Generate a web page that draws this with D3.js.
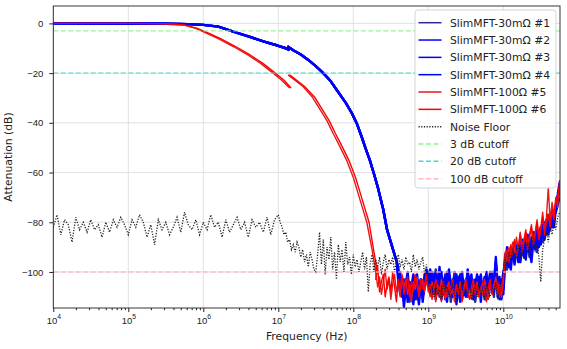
<!DOCTYPE html>
<html lang="en">
<head>
<meta charset="UTF-8">
<title>SlimMFT attenuation</title>
<script src="https://d3js.org/d3.v7.min.js"></script>
<style>
  body { margin: 0; background: white; }
  svg { display: block; font-family: "DejaVu Sans", sans-serif; }
  .tick line { stroke: #222; }
  .domain { display: none; }
</style>
</head>
<body>
<svg width="567" height="349"></svg>
<script>
// frequencies are stored as log10(Hz)
const xTickExps = [4, 5, 6, 7, 8, 9, 10];
const yTickVals = [0, -20, -40, -60, -80, -100];

// 30 mOhm parts: low band sweep (A) and high band sweep (B), shared by #1..#4
const blueExpA = [4, 5, 5.5, 5.8, 6.0, 6.2, 6.4, 6.6, 6.8, 7.0, 7.1, 7.15];
const blueDbA  = [0, -0.05, -0.15, -0.3, -0.6, -1.3, -3.3, -5.2, -7.2, -9.0, -10.0, -10.8];
const blueExpB = [7.12, 7.2, 7.3, 7.4, 7.5, 7.6, 7.7, 7.78, 7.9, 7.98, 8.05, 8.11, 8.16, 8.22, 8.28, 8.33, 8.4, 8.45, 8.5, 8.55, 8.58];
const blueDbB  = [-9.2, -10.8, -12.5, -14.7, -17.2, -20, -23.3, -26.8, -32, -36.1, -40.5, -45.5, -50, -55, -61, -66.3, -75, -83, -88, -93, -96];

// 100 Ohm parts
const red5ExpA = [4, 5, 5.4, 5.6, 5.73, 5.9, 6.04, 6.2, 6.4, 6.6, 6.76, 6.93, 7.05, 7.15];
const red6ExpA = [4, 5, 5.4, 5.6, 5.75, 5.92, 6.07, 6.23, 6.43, 6.63, 6.79, 6.96, 7.08, 7.17];
const redDbA   = [0, 0, -0.1, -0.3, -0.6, -2.0, -3.9, -6.1, -9.3, -12.8, -16, -20, -23, -26];
const red5ExpB = [7.13, 7.2, 7.33, 7.45, 7.56, 7.65, 7.73, 7.82, 7.91, 8.0, 8.06, 8.12, 8.18, 8.25, 8.29];
const red6ExpB = [7.15, 7.22, 7.35, 7.48, 7.59, 7.68, 7.76, 7.85, 7.94, 8.03, 8.09, 8.15, 8.21, 8.27, 8.31];
const redDbB   = [-20.7, -22.3, -25.4, -29.5, -34.8, -39.2, -44.2, -49.5, -55, -62, -68, -74, -80, -91, -98];

// noisy tails, sampled every 0.025 decade
const blueTailStart = 8.6, redTailStart = 8.3, tailStep = 0.025;
const blue1Tail = [-100,-104,-108,-103,-110,-106,-112,-105,-109,-103,-111,-107,-104,-110,-106,-102,
  -100,-105,-102,-108,-99,-104,-110,-103,-107,-101,-109,-104,-112,-106,-100,-105,-109,-103,-111,-106,-104,-110,-102,-108,-105,-112,-107,-103,-109,-105,-111,-104,-108,-101,-106,-110,-97,-104,-109,-103,
  -107,-95,-99,-92,-97,-90,-95,-93,-89,-96,-91,-87,-93,-89,-94,-86,-90,-84,-92,-87,-82,-88,-80,-85,-78,-83,-76,-80,-74,-72,-66];
const blue2Tail = [-98,-107,-102,-111,-105,-100,-109,-104,-113,-106,-101,-108,-103,-112,-105,-99,
  -104,-99,-106,-101,-110,-105,-98,-107,-103,-111,-100,-106,-104,-109,-102,-113,-105,-101,-108,-104,-110,-99,-106,-103,-111,-105,-108,-102,-112,-104,-107,-100,-110,-105,-103,-108,-94,-106,-102,-111,
  -104,-93,-97,-91,-95,-92,-88,-94,-90,-96,-89,-92,-86,-91,-88,-93,-85,-89,-83,-90,-86,-81,-87,-79,-84,-80,-77,-82,-75,-70,-68];
const blue3Tail = [-102,-109,-105,-114,-107,-103,-110,-106,-101,-111,-105,-108,-103,-110,-104,-100,
  -106,-102,-109,-104,-100,-108,-103,-111,-106,-102,-107,-99,-105,-110,-104,-101,-107,-112,-103,-109,-105,-100,-108,-104,-110,-106,-101,-109,-104,-107,-102,-111,-105,-100,-108,-103,-96,-107,-111,-105,
  -109,-96,-92,-98,-93,-90,-97,-91,-94,-88,-93,-90,-95,-87,-92,-89,-84,-91,-85,-88,-82,-86,-80,-84,-77,-81,-75,-79,-73,-69,-64];
const blue4Tail = [-104,-100,-110,-106,-103,-112,-104,-108,-110,-102,-107,-113,-105,-109,-101,-104,
  -102,-107,-100,-105,-111,-102,-106,-100,-109,-104,-112,-101,-107,-103,-108,-110,-102,-106,-100,-107,-103,-109,-105,-101,-110,-103,-106,-109,-101,-108,-104,-106,-110,-103,-100,-107,-99,-110,-105,-108,
  -100,-97,-90,-95,-99,-91,-94,-89,-96,-92,-87,-94,-90,-85,-91,-96,-88,-86,-90,-84,-89,-83,-86,-81,-85,-79,-82,-77,-76,-73,-70];
const red5Tail = [-100,-106,-102,-109,-104,-99,-107,-103,-111,-105,-101,-108,-104,-110,-102,-106,-103,-109,-105,-112,-104,-107,-102,-110,-106,-103,-108,-104,
  -106,-110,-104,-108,-112,-105,-109,-103,-107,-111,-106,-104,-109,-107,-112,-105,-108,-104,-110,-106,-103,-109,-107,-111,-105,-108,-104,-110,-106,-109,-103,-107,-111,-105,-108,-106,-102,-109,-105,-110,
  -104,-92,-96,-90,-94,-88,-92,-86,-91,-84,-89,-87,-83,-90,-85,-81,-88,-84,-79,-86,-82,-76,-83,-78,-66,-80,-72,-77,-70,-74,-63];
const red6Tail = [-103,-98,-108,-104,-101,-110,-105,-102,-108,-100,-106,-112,-103,-107,-101,-109,-105,-102,-110,-104,-108,-101,-106,-109,-103,-107,-105,-101,
  -108,-105,-111,-107,-103,-109,-106,-112,-104,-108,-110,-105,-107,-103,-110,-106,-109,-105,-112,-107,-104,-108,-111,-106,-103,-109,-105,-110,-107,-104,-108,-112,-106,-103,-109,-105,-107,-104,-110,-106,
  -102,-95,-91,-96,-89,-93,-87,-94,-90,-85,-92,-88,-84,-91,-86,-82,-89,-85,-80,-87,-83,-78,-85,-80,-77,-82,-75,-79,-72,-69,-66];

// noise floor: coarse below 10 MHz, finer above
const noiseLowStart = 4, noiseLowStep = 0.05;
const noiseLow = [-82,-77,-85,-79,-81,-88,-78,-83,-80,-84,-79,-83,-81,-86,-80,-84,-79,-82,-78,-81,-85,-79,-82,-77,-80,-86,-81,-89,-79,-83,
  -80,-85,-82,-78,-84,-76,-81,-83,-79,-85,-80,-83,-77,-82,-80,-86,-79,-84,-81,-78,-83,-80,-86,-79,-82,-80,-84,-78,-85,-79,-77];
const noiseHighStart = 7.025, noiseHighStep = 0.025;
const noiseHigh = [-80,-82,-85,-84,-88,-87,-91,
  -89,-92,-88,-90,-94,-91,-96,-93,-98,-92,-95,-99,
  -100,-93,-84,-97,-87,-101,-90,-95,-86,-99,-92,-103,-89,-96,-91,-100,-88,-97,-94,-101,
  -93,-98,-95,-100,-96,-92,-99,-94,-108,-97,-93,-100,-95,-98,-94,-101,-96,-93,-99,-95,-97,-94,-100,-96,-93,-98,-95,-99,-94,-97,-96,-100,-93,-98,-95,-99,-96,-94,-101,-97,
  -104,-108,-106,-110,-105,-109,-107,-111,-104,-108,-106,-110,-107,-105,-109,-111,-106,-108,-104,-110,-107,-109,-105,-111,-108,-106,-110,-104,-109,-107,-111,-105,-108,-110,-106,-109,-104,-111,-107,-103,
  -100,-94,-97,-92,-95,-91,-96,-93,-89,-94,-90,-95,-91,-88,-93,-90,-86,-92,-89,-94,-104,-91,-87,-84,-88,-82,-85,-80,-83,-78,-76];

const cutoffs = [
  { name: "3 dB cutoff", db: -3, color: "#90ee90" },
  { name: "20 dB cutoff", db: -20, color: "#40e0d0" },
  { name: "100 dB cutoff", db: -100, color: "#ffb6c1" }
];

const zip = (exps, dbs) => exps.map((e, i) => [e, dbs[i]]);
const grid = (start, step, dbs) => dbs.map((d, i) => [start + i * step, d]);

const blueA = zip(blueExpA, blueDbA);
const blueB = zip(blueExpB, blueDbB);
const series = [
  { name: "SlimMFT-30mΩ #1", color: "#2a2a9c", w: 2.4, segs: [blueA, blueB.concat(grid(blueTailStart, tailStep, blue1Tail))] },
  { name: "SlimMFT-30mΩ #2", color: "#0000ff", w: 2.4, segs: [blueA, blueB.concat(grid(blueTailStart, tailStep, blue2Tail))] },
  { name: "SlimMFT-30mΩ #3", color: "#0000ff", w: 2.4, segs: [blueA, blueB.concat(grid(blueTailStart, tailStep, blue3Tail))] },
  { name: "SlimMFT-30mΩ #4", color: "#0000ff", w: 2.4, segs: [blueA, blueB.concat(grid(blueTailStart, tailStep, blue4Tail))] },
  { name: "SlimMFT-100Ω #5", color: "#e41a1c", w: 1.4, segs: [zip(red5ExpA, redDbA), zip(red5ExpB, redDbB).concat(grid(redTailStart, tailStep, red5Tail))] },
  { name: "SlimMFT-100Ω #6", color: "#ff0000", w: 1.4, segs: [zip(red6ExpA, redDbA), zip(red6ExpB, redDbB).concat(grid(redTailStart, tailStep, red6Tail))] }
];
const noiseFloor = grid(noiseLowStart, noiseLowStep, noiseLow).concat(grid(noiseHighStart, noiseHighStep, noiseHigh));

const svg = d3.select("svg");
const L = 53.3, R = 560, T = 6, B = 308;

const x = d3.scaleLog().domain([1e4, Math.pow(10, 10.756)]).range([L, R]);
const y = d3.scaleLinear().domain([7, -114.5]).range([T, B]);

svg.append("clipPath").attr("id", "plotClip")
  .append("rect").attr("x", L).attr("y", T).attr("width", R - L).attr("height", B - T);

// grid
const gridG = svg.append("g");
gridG.selectAll("line.vx").data(xTickExps).enter().append("line")
  .attr("x1", d => x(Math.pow(10, d))).attr("x2", d => x(Math.pow(10, d)))
  .attr("y1", T).attr("y2", B).attr("stroke", "#d9d9d9").attr("stroke-width", 0.8);
gridG.selectAll("line.hy").data(yTickVals).enter().append("line")
  .attr("x1", L).attr("x2", R).attr("y1", d => y(d)).attr("y2", d => y(d))
  .attr("stroke", "#d9d9d9").attr("stroke-width", 0.8);

const line = d3.line().x(d => x(Math.pow(10, d[0]))).y(d => y(d[1]));
const plot = svg.append("g").attr("clip-path", "url(#plotClip)");

series.forEach(s => {
  s.segs.forEach(seg => {
    plot.append("path").attr("d", line(seg))
      .attr("fill", "none").attr("stroke", s.color).attr("stroke-width", s.w)
      .attr("stroke-linejoin", "round");
  });
});

plot.append("path").attr("d", line(noiseFloor))
  .attr("fill", "none").attr("stroke", "#222").attr("stroke-width", 1.3)
  .attr("stroke-dasharray", "1.2,1.5");

cutoffs.forEach(c => {
  plot.append("line").attr("x1", L).attr("x2", R).attr("y1", y(c.db)).attr("y2", y(c.db))
    .attr("stroke", c.color).attr("stroke-width", 1.4).attr("stroke-dasharray", "5,2.5")
    .attr("opacity", 0.85);
});

// axes
const xAxis = d3.axisBottom(x)
  .tickValues(xTickExps.map(e => Math.pow(10, e)))
  .tickSize(4).tickPadding(5).tickFormat(() => "");
const xg = svg.append("g").attr("transform", `translate(0,${B})`).call(xAxis);
xg.selectAll(".tick text").each(function (d) {
  const t = d3.select(this).attr("font-size", 9.5).attr("fill", "#222");
  t.append("tspan").text("10");
  t.append("tspan").attr("dy", -4.5).attr("font-size", 6.8).text(Math.round(Math.log10(d)));
});

const minor = [];
for (let e = 4; e <= 10; e++) for (let m = 2; m <= 9; m++) {
  const v = m * Math.pow(10, e);
  if (v < x.domain()[1]) minor.push(v);
}
svg.append("g").attr("transform", `translate(0,${B})`)
  .call(d3.axisBottom(x).tickValues(minor).tickSize(2.2).tickFormat(() => ""));

const yg = svg.append("g").attr("transform", `translate(${L},0)`)
  .call(d3.axisLeft(y).tickValues(yTickVals).tickSize(4).tickPadding(6));
yg.selectAll(".tick text").attr("font-size", 9.5).attr("fill", "#222");

svg.append("rect").attr("x", L).attr("y", T).attr("width", R - L).attr("height", B - T)
  .attr("fill", "none").attr("stroke", "#222").attr("stroke-width", 0.9);

svg.append("text").attr("x", (L + R) / 2).attr("y", 340).attr("text-anchor", "middle")
  .attr("font-size", 10.8).attr("fill", "#222").text("Frequency (Hz)");
svg.append("text").attr("transform", `translate(12,${(T + B) / 2}) rotate(-90)`)
  .attr("text-anchor", "middle").attr("font-size", 10.8).attr("fill", "#222").text("Attenuation (dB)");

// legend
const legendItems = series.map(s => ({ name: s.name, color: s.color, dash: null }))
  .concat([{ name: "Noise Floor", color: "#222", dash: "1.2,1.5" }])
  .concat(cutoffs.map(c => ({ name: c.name, color: c.color, dash: "5,2.5" })));
const lg = svg.append("g");
lg.append("rect").attr("x", 415).attr("y", 10).attr("width", 141).attr("height", 178).attr("rx", 3)
  .attr("fill", "white").attr("fill-opacity", 0.85).attr("stroke", "#d0d0d0").attr("stroke-width", 0.9);
legendItems.forEach((it, i) => {
  const cy = 22.7 + i * 17.33;
  lg.append("line").attr("x1", 418.5).attr("x2", 441.5).attr("y1", cy).attr("y2", cy)
    .attr("stroke", it.color).attr("stroke-width", 1.5).attr("stroke-dasharray", it.dash);
  lg.append("text").attr("x", 450).attr("y", cy + 3.9).attr("font-size", 10.8).attr("fill", "#222").text(it.name);
});
</script>
</body>
</html>
